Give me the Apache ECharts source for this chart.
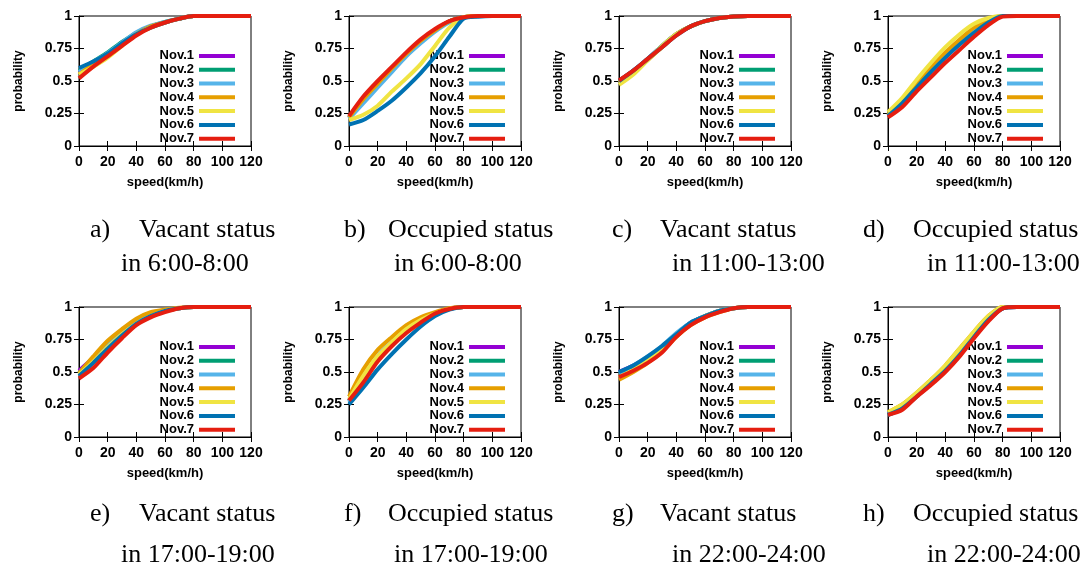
<!DOCTYPE html>
<html>
<head>
<meta charset="utf-8">
<script src="https://cdn.jsdelivr.net/npm/echarts@6/dist/echarts.min.js"></script>
<style>
html, body { margin: 0; padding: 0; background: #fff; }
#chart { width: 1090px; height: 570px; }
</style>
</head>
<body>
<div id="chart"></div>
<script>
// speed samples (km/h) shared by every curve
const speeds = [0, 10, 20, 30, 40, 50, 60, 70, 80, 90, 100, 110, 120];
const days = ['Nov.1', 'Nov.2', 'Nov.3', 'Nov.4', 'Nov.5', 'Nov.6', 'Nov.7'];

const captionHead = ['a)', 'b)', 'c)', 'd)', 'e)', 'f)', 'g)', 'h)'];
const captionStatus = ['Vacant status', 'Occupied status', 'Vacant status', 'Occupied status',
    'Vacant status', 'Occupied status', 'Vacant status', 'Occupied status'];
const captionTime = ['in 6:00-8:00', 'in 6:00-8:00', 'in 11:00-13:00', 'in 11:00-13:00',
    'in 17:00-19:00', 'in 17:00-19:00', 'in 22:00-24:00', 'in 22:00-24:00'];

// cumulative probability, one row per day (Nov.1 .. Nov.7)
// a) vacant 6:00-8:00
const panelA = [
    [0.57, 0.64, 0.71, 0.79, 0.87, 0.92, 0.95, 0.98, 1, 1, 1, 1, 1],
    [0.58, 0.65, 0.72, 0.80, 0.87, 0.92, 0.955, 0.98, 1, 1, 1, 1, 1],
    [0.57, 0.645, 0.715, 0.795, 0.875, 0.925, 0.955, 0.98, 1, 1, 1, 1, 1],
    [0.55, 0.63, 0.70, 0.78, 0.86, 0.92, 0.95, 0.98, 1, 1, 1, 1, 1],
    [0.55, 0.61, 0.68, 0.77, 0.86, 0.91, 0.95, 0.98, 1, 1, 1, 1, 1],
    [0.60, 0.65, 0.71, 0.79, 0.86, 0.91, 0.95, 0.98, 1, 1, 1, 1, 1],
    [0.52, 0.61, 0.69, 0.77, 0.85, 0.91, 0.95, 0.98, 1, 1, 1, 1, 1]
];
// b) occupied 6:00-8:00
const panelB = [
    [0.22, 0.37, 0.48, 0.60, 0.71, 0.81, 0.89, 0.96, 0.99, 1, 1, 1, 1],
    [0.22, 0.36, 0.47, 0.59, 0.70, 0.80, 0.89, 0.96, 0.99, 1, 1, 1, 1],
    [0.21, 0.33, 0.45, 0.57, 0.69, 0.79, 0.88, 0.95, 0.99, 1, 1, 1, 1],
    [0.22, 0.36, 0.48, 0.60, 0.71, 0.81, 0.89, 0.96, 0.99, 1, 1, 1, 1],
    [0.20, 0.24, 0.31, 0.42, 0.52, 0.63, 0.77, 0.91, 0.99, 1, 1, 1, 1],
    [0.165, 0.20, 0.27, 0.35, 0.45, 0.56, 0.69, 0.84, 0.98, 0.995, 1, 1, 1],
    [0.23, 0.38, 0.50, 0.61, 0.72, 0.82, 0.90, 0.96, 0.99, 1, 1, 1, 1]
];
// c) vacant 11:00-13:00
const panelC = [
    [0.50, 0.58, 0.67, 0.77, 0.86, 0.92, 0.96, 0.985, 0.997, 1, 1, 1, 1],
    [0.50, 0.58, 0.67, 0.77, 0.86, 0.92, 0.96, 0.985, 0.997, 1, 1, 1, 1],
    [0.49, 0.57, 0.67, 0.77, 0.86, 0.92, 0.96, 0.985, 0.997, 1, 1, 1, 1],
    [0.49, 0.57, 0.66, 0.76, 0.86, 0.92, 0.96, 0.985, 0.997, 1, 1, 1, 1],
    [0.47, 0.55, 0.66, 0.77, 0.86, 0.92, 0.96, 0.985, 0.997, 1, 1, 1, 1],
    [0.50, 0.58, 0.67, 0.76, 0.85, 0.92, 0.96, 0.985, 0.997, 1, 1, 1, 1],
    [0.505, 0.58, 0.67, 0.76, 0.85, 0.92, 0.96, 0.985, 0.997, 1, 1, 1, 1]
];
// d) occupied 11:00-13:00
const panelD = [
    [0.23, 0.33, 0.46, 0.58, 0.69, 0.80, 0.89, 0.96, 1, 1, 1, 1, 1],
    [0.24, 0.34, 0.47, 0.59, 0.70, 0.81, 0.89, 0.96, 1, 1, 1, 1, 1],
    [0.24, 0.34, 0.47, 0.59, 0.71, 0.81, 0.90, 0.97, 1, 1, 1, 1, 1],
    [0.24, 0.35, 0.48, 0.61, 0.72, 0.82, 0.91, 0.97, 1, 1, 1, 1, 1],
    [0.26, 0.37, 0.51, 0.64, 0.76, 0.86, 0.94, 0.985, 1, 1, 1, 1, 1],
    [0.23, 0.33, 0.45, 0.57, 0.68, 0.78, 0.87, 0.95, 1, 1, 1, 1, 1],
    [0.22, 0.30, 0.42, 0.53, 0.64, 0.74, 0.84, 0.93, 0.995, 1, 1, 1, 1]
];
// e) vacant 17:00-19:00
const panelE = [
    [0.51, 0.61, 0.72, 0.81, 0.89, 0.94, 0.97, 0.99, 1, 1, 1, 1, 1],
    [0.49, 0.60, 0.71, 0.80, 0.88, 0.94, 0.97, 0.99, 1, 1, 1, 1, 1],
    [0.49, 0.61, 0.72, 0.81, 0.89, 0.94, 0.97, 0.99, 1, 1, 1, 1, 1],
    [0.49, 0.62, 0.74, 0.83, 0.91, 0.96, 0.98, 0.995, 1, 1, 1, 1, 1],
    [0.48, 0.58, 0.69, 0.79, 0.87, 0.93, 0.97, 0.99, 1, 1, 1, 1, 1],
    [0.47, 0.57, 0.68, 0.78, 0.87, 0.93, 0.97, 0.99, 1, 1, 1, 1, 1],
    [0.45, 0.53, 0.65, 0.76, 0.86, 0.92, 0.96, 0.99, 1, 1, 1, 1, 1]
];
// f) occupied 17:00-19:00
const panelF = [
    [0.28, 0.44, 0.60, 0.72, 0.81, 0.89, 0.95, 0.985, 1, 1, 1, 1, 1],
    [0.28, 0.44, 0.60, 0.72, 0.81, 0.89, 0.95, 0.985, 1, 1, 1, 1, 1],
    [0.27, 0.46, 0.62, 0.73, 0.82, 0.89, 0.95, 0.985, 1, 1, 1, 1, 1],
    [0.31, 0.52, 0.67, 0.77, 0.86, 0.92, 0.96, 0.99, 1, 1, 1, 1, 1],
    [0.29, 0.47, 0.62, 0.73, 0.83, 0.90, 0.95, 0.985, 1, 1, 1, 1, 1],
    [0.25, 0.38, 0.52, 0.64, 0.75, 0.85, 0.93, 0.98, 1, 1, 1, 1, 1],
    [0.28, 0.42, 0.58, 0.70, 0.80, 0.88, 0.95, 0.985, 1, 1, 1, 1, 1]
];
// g) vacant 22:00-24:00
const panelG = [
    [0.50, 0.55, 0.61, 0.69, 0.79, 0.88, 0.93, 0.97, 0.99, 1, 1, 1, 1],
    [0.49, 0.54, 0.61, 0.69, 0.79, 0.88, 0.93, 0.97, 0.99, 1, 1, 1, 1],
    [0.49, 0.55, 0.62, 0.70, 0.80, 0.88, 0.93, 0.97, 0.99, 1, 1, 1, 1],
    [0.44, 0.50, 0.57, 0.66, 0.77, 0.86, 0.92, 0.96, 0.99, 1, 1, 1, 1],
    [0.46, 0.52, 0.59, 0.68, 0.78, 0.87, 0.93, 0.97, 0.99, 1, 1, 1, 1],
    [0.50, 0.55, 0.62, 0.70, 0.79, 0.88, 0.93, 0.97, 0.99, 1, 1, 1, 1],
    [0.46, 0.51, 0.57, 0.65, 0.77, 0.86, 0.92, 0.96, 0.99, 1, 1, 1, 1]
];
// h) occupied 22:00-24:00
const panelH = [
    [0.17, 0.22, 0.32, 0.41, 0.51, 0.63, 0.77, 0.90, 0.99, 1, 1, 1, 1],
    [0.17, 0.22, 0.32, 0.41, 0.51, 0.63, 0.77, 0.90, 0.99, 1, 1, 1, 1],
    [0.18, 0.23, 0.32, 0.42, 0.52, 0.64, 0.78, 0.91, 0.99, 1, 1, 1, 1],
    [0.19, 0.25, 0.34, 0.44, 0.55, 0.68, 0.81, 0.93, 1, 1, 1, 1, 1],
    [0.19, 0.25, 0.34, 0.44, 0.55, 0.68, 0.81, 0.93, 1, 1, 1, 1, 1],
    [0.17, 0.22, 0.31, 0.41, 0.51, 0.63, 0.77, 0.90, 0.99, 1, 1, 1, 1],
    [0.17, 0.21, 0.31, 0.40, 0.50, 0.62, 0.76, 0.89, 0.99, 1, 1, 1, 1]
];

const panels = [panelA, panelB, panelC, panelD, panelE, panelF, panelG, panelH];
const colors = ['#9400d3', '#009e73', '#56b4e9', '#e69f00', '#f0e442', '#0072b2', '#e51e10'];

const plotLefts = [79, 349, 619, 888];
const plotTops = [16, 307];
const plotW = 172, plotH = 130;
const legendRights = [855, 585, 315, 47];
const capLabelX = [90, 344, 612, 863];
const capStatusX = [139, 388, 660, 913];
const capTimeX = [121, 394, 672, 927];
const capLine1Y = [230, 514];
const capLine2Y = [264, 555];

const sans = 'Liberation Sans';
const tickFont = { color: '#000', fontFamily: sans, fontWeight: 'bold', fontSize: 14 };

const chart = echarts.init(document.getElementById('chart'));

const grid = [], xAxis = [], yAxis = [], legend = [], series = [], graphic = [];
panels.forEach(function (rows, p) {
    const col = p % 4, row = Math.floor(p / 4);
    grid.push({
        left: plotLefts[col], top: plotTops[row], width: plotW, height: plotH,
        show: true, borderColor: '#000', borderWidth: 1, backgroundColor: 'transparent'
    });
    xAxis.push({
        type: 'value', gridIndex: p, min: 0, max: 120, interval: 20,
        name: 'speed(km/h)', nameLocation: 'middle', nameGap: 30,
        nameTextStyle: { color: '#000', fontFamily: sans, fontWeight: 'bold', fontSize: 13 },
        axisLine: { show: true, onZero: false, lineStyle: { color: '#000', width: 1 } },
        axisTick: { show: true, inside: true, length: 5, lineStyle: { color: '#000' } },
        axisLabel: Object.assign({ margin: 9 }, tickFont),
        splitLine: { show: false }
    });
    yAxis.push({
        type: 'value', gridIndex: p, min: 0, max: 1, interval: 0.25,
        name: 'probability', nameLocation: 'middle', nameGap: 54, nameRotate: 90,
        nameTextStyle: { color: '#000', fontFamily: sans, fontWeight: 'bold', fontSize: 12 },
        axisLine: { show: true, onZero: false, lineStyle: { color: '#000', width: 1 } },
        axisTick: { show: true, inside: true, length: 5, lineStyle: { color: '#000' } },
        axisLabel: Object.assign({ margin: 7, formatter: function (v) { return String(v); } }, tickFont),
        splitLine: { show: false }
    });
    legend.push({
        data: days, orient: 'vertical', align: 'right', padding: 0,
        right: legendRights[col], top: (row === 0 ? 49 : 340),
        icon: 'rect', itemWidth: 36, itemHeight: 4, itemGap: 0,
        selectedMode: false,
        textStyle: { color: '#000', fontFamily: sans, fontWeight: 'bold', fontSize: 13, lineHeight: 13.8 }
    });
    rows.forEach(function (vals, d) {
        series.push({
            type: 'line', name: days[d], xAxisIndex: p, yAxisIndex: p,
            data: speeds.map(function (s, i) { return [s, vals[i]]; }),
            smooth: 0.25, symbol: 'none', color: colors[d],
            lineStyle: { width: 4, color: colors[d] }, z: 2 + d
        });
    });
    const capStyle = { fill: '#000', font: '26px "Liberation Serif"' };
    graphic.push({ type: 'text', left: capLabelX[col], top: capLine1Y[row] - 13,
        style: Object.assign({ text: captionHead[p] }, capStyle) });
    graphic.push({ type: 'text', left: capStatusX[col], top: capLine1Y[row] - 13,
        style: Object.assign({ text: captionStatus[p] }, capStyle) });
    graphic.push({ type: 'text', left: capTimeX[col], top: capLine2Y[row] - 13,
        style: Object.assign({ text: captionTime[p] }, capStyle) });
});

// mirrored ticks on the top and right edges, as in the original plots
panels.forEach(function (rows, p) {
    xAxis.push({
        type: 'value', gridIndex: p, position: 'top', min: 0, max: 120, interval: 20,
        axisLine: { show: false }, axisLabel: { show: false }, splitLine: { show: false },
        axisTick: { show: true, inside: true, length: 5, lineStyle: { color: '#000' } }
    });
    yAxis.push({
        type: 'value', gridIndex: p, position: 'right', min: 0, max: 1, interval: 0.25,
        axisLine: { show: false }, axisLabel: { show: false }, splitLine: { show: false },
        axisTick: { show: true, inside: true, length: 5, lineStyle: { color: '#000' } }
    });
});

chart.setOption({
    animation: false,
    backgroundColor: '#fff',
    grid: grid,
    xAxis: xAxis,
    yAxis: yAxis,
    legend: legend,
    series: series,
    graphic: graphic
});
</script>
</body>
</html>
